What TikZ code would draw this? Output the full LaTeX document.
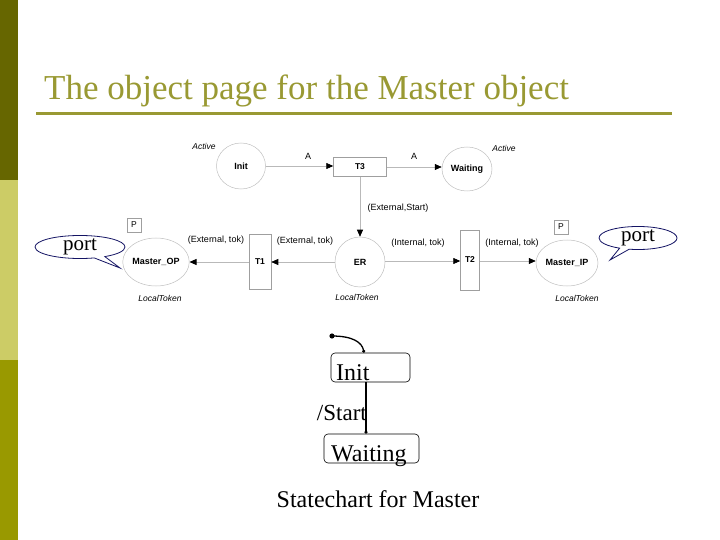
\documentclass[tikz,border=0pt]{standalone}
\usepackage{fontspec}
\setmainfont{Liberation Serif}
\setsansfont{Liberation Sans}
\usetikzlibrary{shapes.geometric,shapes.callouts,arrows.meta}
\definecolor{olivedark}{RGB}{102,102,0}
\definecolor{olivelight}{RGB}{204,204,102}
\definecolor{olivemid}{RGB}{153,153,0}
\definecolor{titlecol}{RGB}{153,153,51}
\definecolor{calloutcol}{RGB}{20,20,100}
\begin{document}
\begin{tikzpicture}[x=1pt,y=-1pt,
  place/.style={ellipse, draw=gray!50, line width=0.5pt, inner sep=0pt, font=\sffamily\bfseries\fontsize{9}{10}\selectfont},
  trans/.style={rectangle, draw=gray!75, line width=0.5pt, inner sep=0pt, font=\sffamily\bfseries\fontsize{8.5}{10}\selectfont},
  arcline/.style={draw=gray!55, line width=0.6pt, -{Triangle[length=7pt,width=6pt,color=black]}},
  arclabel/.style={inner sep=0pt, font=\sffamily\fontsize{9}{10}\selectfont},
  italabel/.style={inner sep=0pt, font=\sffamily\itshape\fontsize{8.5}{10}\selectfont},
  pbox/.style={rectangle, draw=gray!75, line width=0.5pt, minimum width=14pt, minimum height=14pt, inner sep=0pt, font=\sffamily\fontsize{8.5}{10}\selectfont},
  portcallout/.style={ellipse callout, draw=calloutcol, fill=white, line width=0.8pt, inner sep=0pt, font=\fontsize{21}{21}\selectfont},
  statebox/.style={rectangle, rounded corners=4pt, draw=black, line width=0.6pt, minimum height=29pt, inner sep=0pt},
  statetext/.style={inner sep=0pt, anchor=base west, font=\fontsize{24}{24}\selectfont},
  sline/.style={draw=black, line width=1.3pt}
]
\useasboundingbox (0,0) rectangle (720,540);
% left bar
\fill[olivedark] (0,0) rectangle (18,180);
\fill[olivelight] (0,180) rectangle (18,360);
\fill[olivemid] (0,360) rectangle (18,540);
% title
\node[anchor=base west, inner sep=0pt, text=titlecol, font=\fontsize{35}{35}\selectfont] (title) at (44,100) {The object page for the Master object};
\fill[titlecol] (36,112.5) rectangle (672,115.5);

% Petri net
\node[place, minimum width=49pt, minimum height=46pt] (init) at (241,166) {Init};
\node[trans, minimum width=53pt, minimum height=19pt] (t3) at (360,167) {T3};
\node[place, minimum width=50pt, minimum height=44pt] (waiting) at (467,169) {Waiting};
\node[place, minimum width=50pt, minimum height=50pt] (er) at (360,262) {ER};
\node[trans, minimum width=22pt, minimum height=55pt] (t1) at (260,262) {T1};
\node[trans, minimum width=19pt, minimum height=60pt] (t2) at (470,260) {T2};
\node[place, minimum width=66pt, minimum height=48pt] (mop) at (156,262) {Master\_OP};
\node[place, minimum width=62pt, minimum height=46pt] (mip) at (567,263) {Master\_IP};
\node[pbox] (p1) at (134,225) {P};
\node[pbox] (p2) at (561,227) {P};

\node[italabel] (act1) at (204,146) {Active};
\node[italabel] (act2) at (504,148) {Active};
\node[italabel] (lt1) at (160,298) {LocalToken};
\node[italabel] (lt2) at (357,297) {LocalToken};
\node[italabel] (lt3) at (577,298) {LocalToken};

\draw[arcline] (init.east |- 0,166) -- (t3.west |- 0,166);
\draw[arcline] (t3.east |- 0,167) -- (waiting.west |- 0,167);
\draw[arcline] (t3.south) -- (er.north);
\draw[arcline] (er.west) -- (t1.east |- er.west);
\draw[arcline] (t1.west |- er.west) -- (mop.east |- er.west);
\draw[arcline] (er.east |- 0,261) -- (t2.west |- 0,261);
\draw[arcline] (t2.east |- 0,261) -- (mip.west |- 0,261);

\node[arclabel] (la1) at (308,156) {A};
\node[arclabel] (la2) at (414,156) {A};
\node[arclabel] (les) at (398,208) {(External,Start)};
\node[arclabel] (let1) at (216,240) {(External, tok)};
\node[arclabel] (let2) at (305,241) {(External, tok)};
\node[arclabel] (lit1) at (418,243) {(Internal, tok)};
\node[arclabel] (lit2) at (512,243) {(Internal, tok)};

% port callouts
\node[portcallout, minimum width=90pt, minimum height=21pt, callout absolute pointer={(120,268)}] (portL) at (80,247) {port};
\node[portcallout, minimum width=78pt, minimum height=20pt, callout absolute pointer={(610,260)}] (portR) at (638,238) {port};

% statechart
\node[statebox, minimum width=79pt] (sinit) at (370.5,367.5) {};
\node[statebox, minimum width=95pt] (swait) at (371.5,448.5) {};
\node[statetext] (tinit) at (336,380) {Init};
\node[statetext] (twait) at (331,461) {Waiting};
\coordinate (start) at (332,336);
\fill (start) circle (2.6pt);
\draw[sline, -{Circle[length=3pt]}] (start) .. controls (352,336) and (362,342) .. (sinit.north -| 364,0);
\draw[sline, -{Circle[length=3pt]}] (sinit.south -| 366,0) -- (swait.north -| 366,0);
\node[inner sep=0pt, anchor=base east, font=\fontsize{23}{23}\selectfont] (lstart) at (367,420) {/Start};
\node[inner sep=0pt, anchor=base, font=\fontsize{24}{24}\selectfont] (cap) at (378,507) {Statechart for Master};
\end{tikzpicture}
\end{document}
